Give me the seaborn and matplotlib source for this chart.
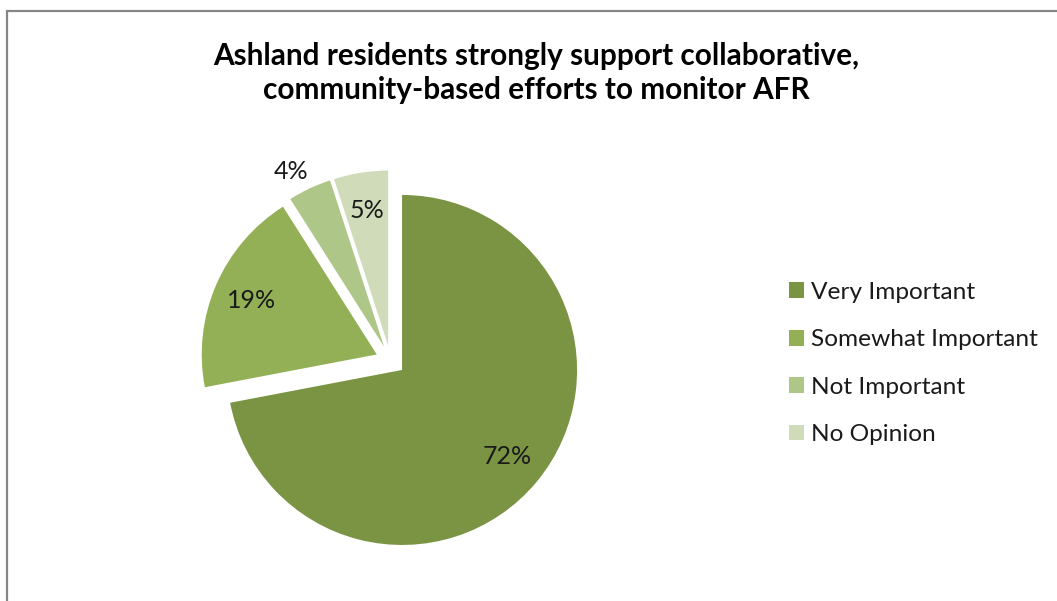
import matplotlib
matplotlib.use("Agg")
import matplotlib.pyplot as plt
import seaborn as sns
import numpy as np
from matplotlib.patches import Rectangle

categories = ["Very Important", "Somewhat Important", "Not Important", "No Opinion"]
values = [72, 19, 4, 5]
colors = ["#7A9444", "#93B057", "#AEC688", "#D0DCB9"]
title = "Ashland residents strongly support collaborative,\ncommunity-based efforts to monitor AFR"

sns.set_theme(style="white")
plt.rcParams["font.family"] = ["Lato", "DejaVu Sans"]

W, H = 1057, 601
fig = plt.figure(figsize=(W / 100, H / 100), dpi=100)
ax = fig.add_axes([0, 0, 1, 1])

R = 175.0
cx, cy = 390.5, H - 360.4
# matplotlib offsets exploded wedges in data units (not scaled by radius)
explode = [15.0] * len(values)

wedges, texts, autotexts = ax.pie(
    values, colors=colors, startangle=90, counterclock=False,
    explode=explode, radius=R, center=(cx, cy),
    autopct="%d%%", pctdistance=0.78,
    wedgeprops=dict(linewidth=0),
    textprops=dict(fontsize=18, color="#1a1a1a"),
)

# move the small "Not Important" label outside its slice (best-fit style)
w = wedges[2]
ang = np.deg2rad((w.theta1 + w.theta2) / 2)
autotexts[2].set_position((cx + 214 * np.cos(ang) - 8, cy + 214 * np.sin(ang) - 5))

ax.set_xlim(0, W)
ax.set_ylim(0, H)
ax.set_aspect("auto")
ax.axis("off")

# chart border (cropped at right and bottom)
ax.add_patch(Rectangle((7, -30), W + 50, H - 10.5 + 30, fill=False,
                       edgecolor="#868686", linewidth=1.6, clip_on=False))

fig.text(536.5 / W, 1 - 73 / H, title, ha="center", va="center",
         fontsize=21.4, fontweight="bold", color="#000000", linespacing=1.3)

leg = ax.legend(wedges, categories, loc="center left",
                bbox_to_anchor=(789 / W, 1 - 363.5 / H),
                frameon=False, fontsize=17.6, handlelength=0.62, handleheight=0.62,
                handletextpad=0.3, labelspacing=1.08, borderpad=0, borderaxespad=0)
for t in leg.get_texts():
    t.set_color("#1a1a1a")

fig.savefig("out.png", dpi=100, facecolor="white")
